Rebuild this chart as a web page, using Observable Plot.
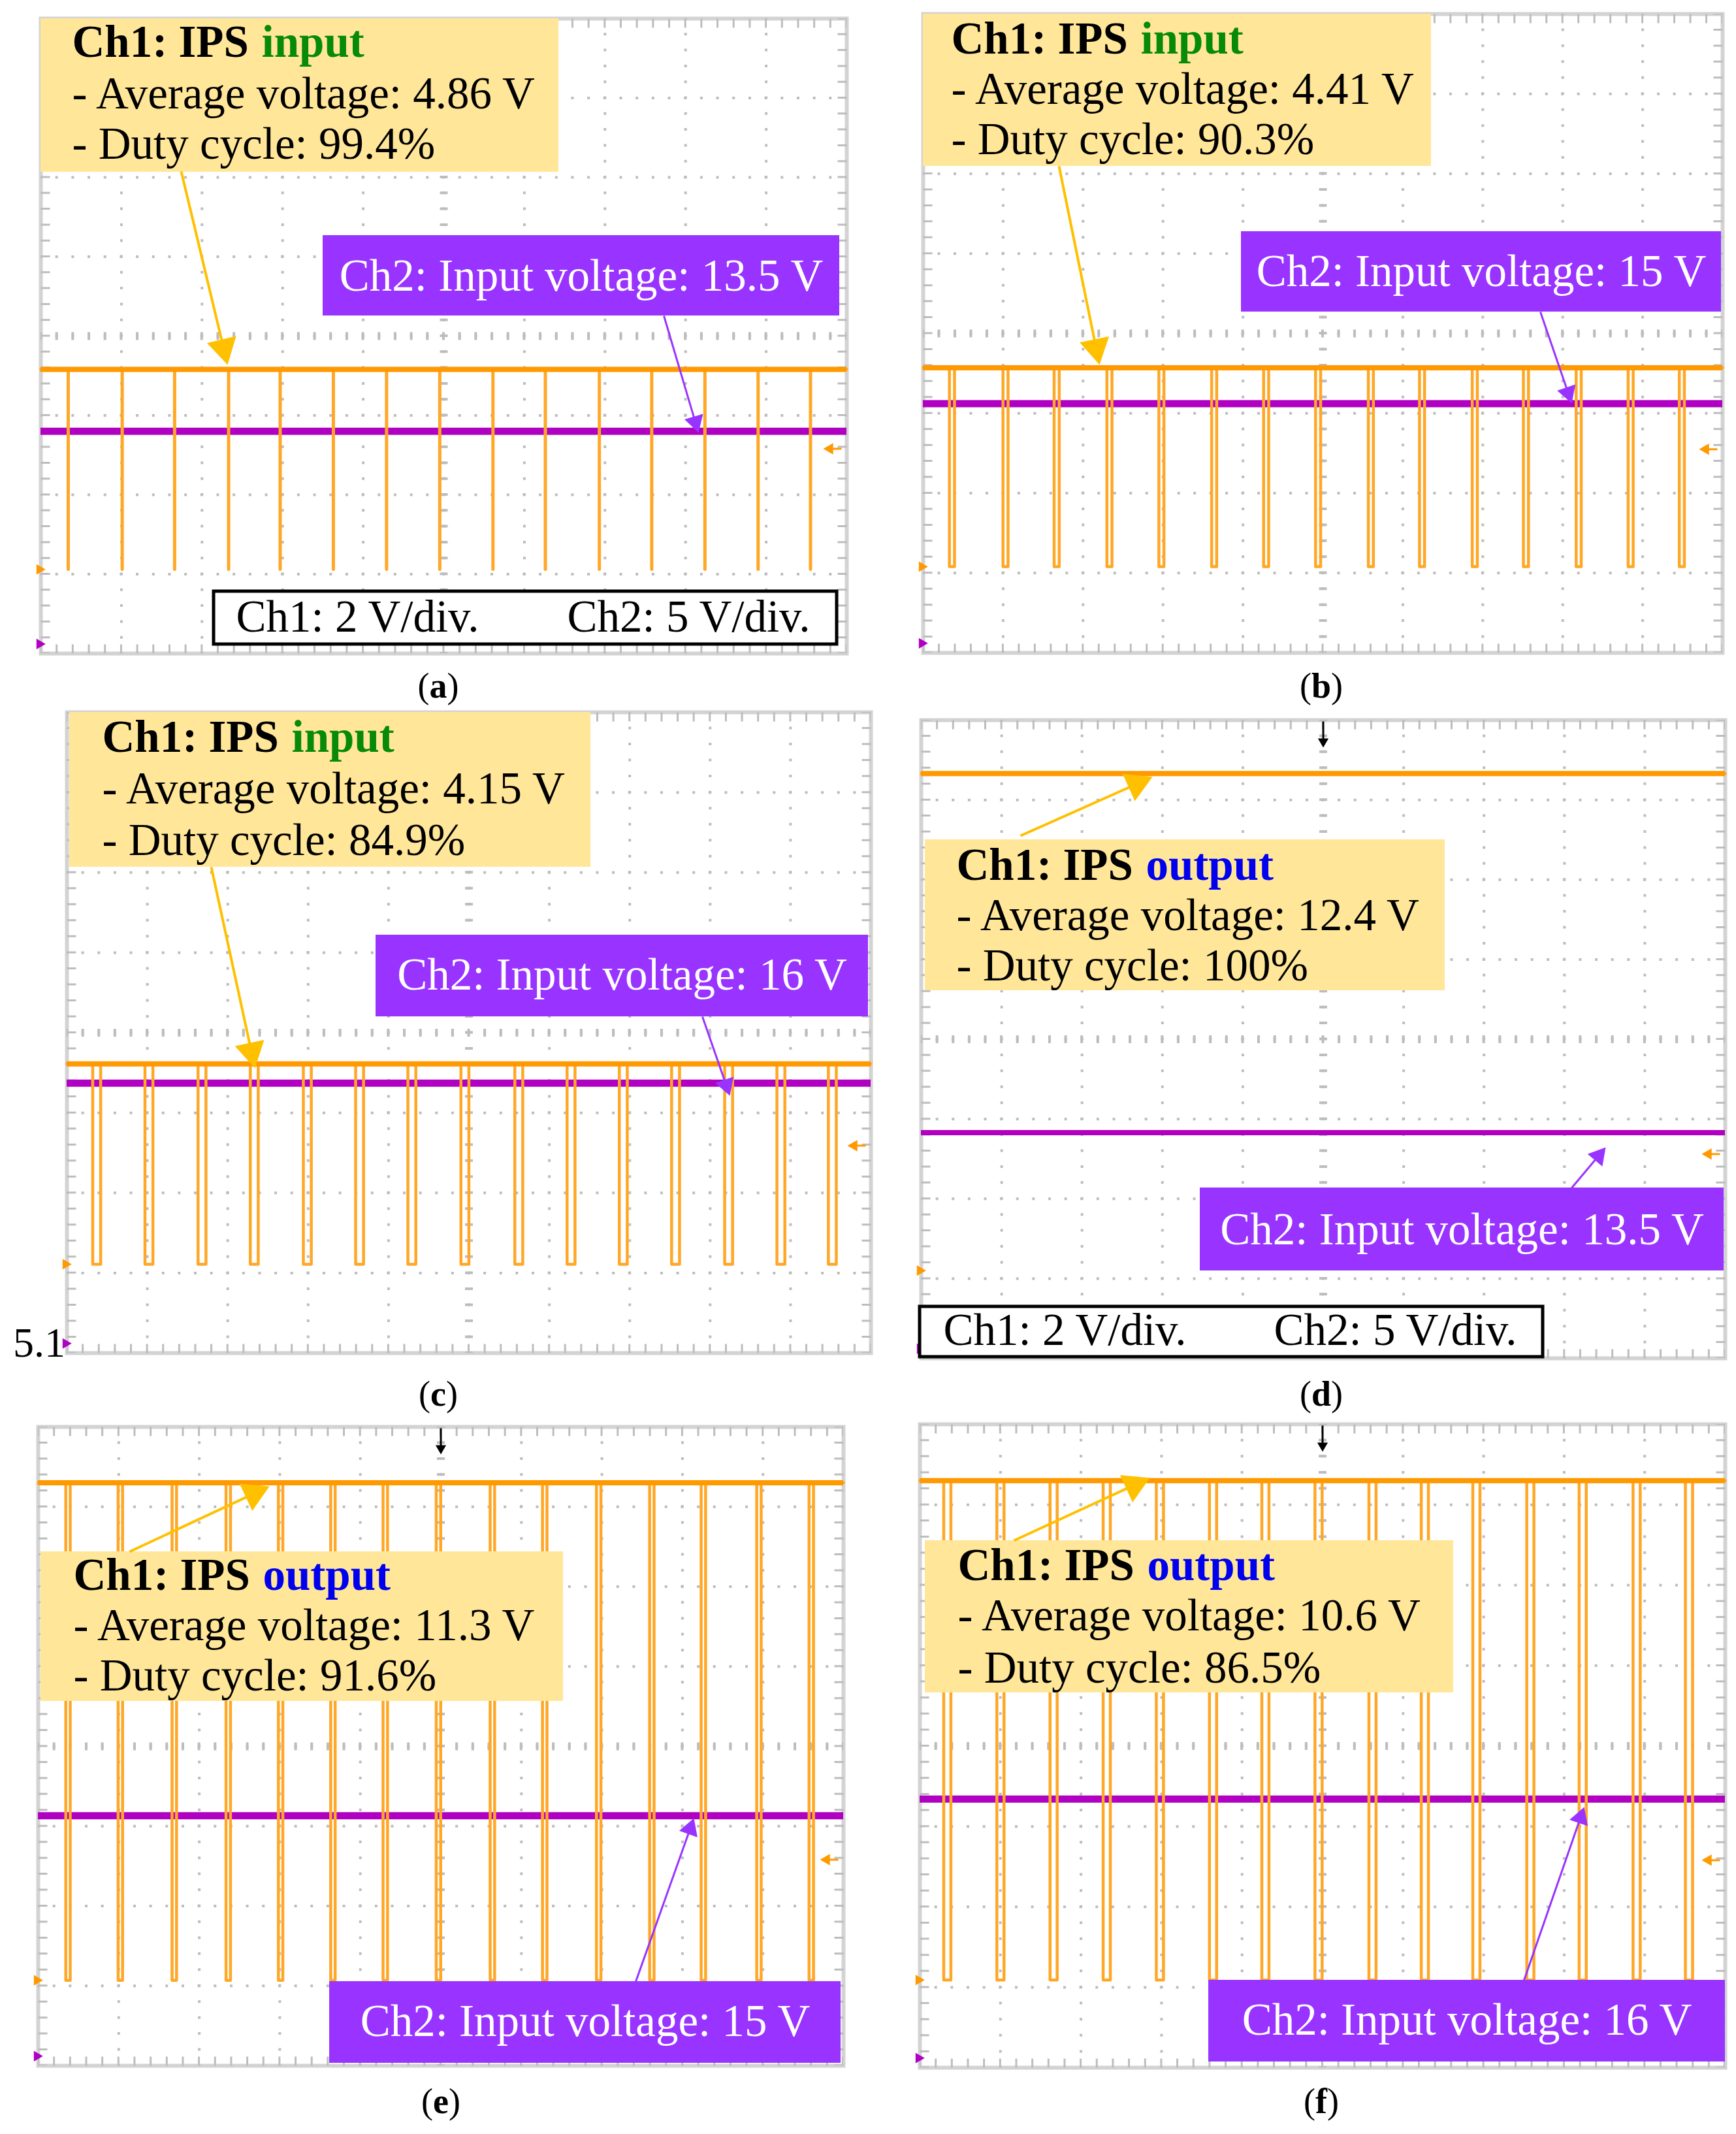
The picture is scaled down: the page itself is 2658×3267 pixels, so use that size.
<!DOCTYPE html>
<html>
<head>
<meta charset="utf-8">
<script src="https://cdn.jsdelivr.net/npm/d3@7"></script>
<script src="https://cdn.jsdelivr.net/npm/@observablehq/plot@0.6"></script>
<style>
html,body{margin:0;padding:0;background:#fff;}
#page{position:relative;width:2658px;height:3267px;overflow:hidden;font-family:"Liberation Serif","Times New Roman",serif;color:#000;}
.panel{position:absolute;}
.panel svg{overflow:visible;display:block;}
.cap{position:absolute;font-size:54px;line-height:54px;white-space:nowrap;transform:translateX(-50%);}
.sec{position:absolute;font-size:64px;line-height:64px;white-space:nowrap;}
</style>
</head>
<body>
<div id="page"></div>
<script>
// ---------------- data ----------------
const panelLabels = ["a", "b", "c", "d", "e", "f"];
const ch1Point = ["input", "input", "input", "output", "output", "output"];
const averageVoltage = ["4.86", "4.41", "4.15", "12.4", "11.3", "10.6"];
const dutyCycle = [99.4, 90.3, 84.9, 100, 91.6, 86.5];
const inputVoltage = ["13.5", "15", "16", "13.5", "15", "16"];
const scaleTexts = ["Ch1: 2 V/div.", "Ch2: 5 V/div."];
const sectionLabel = "5.1";

// trace levels, in screen divisions from the centre line (8 div tall, 10 div wide)
const ch1HighDiv = [-0.42, -0.43, -0.39, 3.33, 3.30, 3.30];
const ch1LowDiv = [-2.94, -2.92, -2.89, -2.90, -2.93, -2.91];
const ch2LevelDiv = [-1.20, -0.88, -0.63, -1.17, -0.87, -0.66];
const triggerLevelDiv = [-1.42, -1.45, -1.41, -1.44, -1.42, -1.42];
const ch2GroundDiv = [-3.88, -3.88, -3.88, -3.88, -3.88, -3.88];
// centres of the low (off) pulses of Ch1, in divisions from the left edge
const pulseCentersDiv = [
  [0.34, 1.01, 1.66, 2.33, 2.97, 3.63, 4.29, 4.95, 5.61, 6.26, 6.93, 7.58, 8.24, 8.90, 9.55],
  [0.36, 1.03, 1.67, 2.33, 2.98, 3.64, 4.29, 4.94, 5.60, 6.24, 6.90, 7.54, 8.20, 8.85, 9.49],
  [0.37, 1.02, 1.68, 2.33, 2.99, 3.64, 4.29, 4.95, 5.62, 6.27, 6.92, 7.57, 8.23, 8.88, 9.52],
  [],
  [0.37, 1.02, 1.69, 2.36, 3.01, 3.66, 4.31, 4.97, 5.64, 6.29, 6.96, 7.62, 8.26, 8.95, 9.60],
  [0.34, 1.00, 1.66, 2.32, 2.98, 3.64, 4.29, 4.95, 5.62, 6.27, 6.91, 7.58, 8.23, 8.90, 9.55]
];

// ---------------- layout (page px / panel-local px) ----------------
const frameLeft = [62, 1413, 102, 1410, 58, 1408];
const frameTop = [28, 21, 1090, 1102, 2184, 2180];
const frameWidth = [1234, 1224, 1231, 1231, 1233, 1233];
const frameHeight = [972, 978, 981, 977, 978, 985];
const captionX = [671, 2023, 671, 2023, 675, 2023];
const captionBaseline = [1068, 1068, 2152, 2152, 3235, 3235];
const noteBox = [[0, 793, 0, 235], [0, 778, 0, 233], [4, 802, 0, 237], [6, 802, 183, 414], [4, 804, 191, 420], [8, 817, 178, 411]];
const noteTextX = [48, 43, 54, 54, 54, 58];
const noteBaselines = [[58, 137, 214], [60, 137, 214], [60, 139, 218], [244, 321, 398], [249, 326, 403], [238, 315, 395]];
const ch2Box = [[432, 1223, 332, 455], [487, 1222, 333, 456], [473, 1227, 341, 466], [427, 1229, 716, 843], [446, 1229, 849, 974], [442, 1233, 851, 976]];
const ch2Baseline = [416, 416, 424, 802, 932, 934];
const scaleBox = [[265, 1219, 877, 958], null, null, [-2, 952, 898, 975], null, null];
const scaleTextX = [[299, 806], null, null, [34, 540], null, null];
const scaleBaseline = [938, null, null, 956, null, null];
const ch1Arrow = [[215, 234, 286, 530], [208, 233, 270, 537], [221, 237, 288, 545], [152, 177, 354, 87], [140, 191, 354, 91], [144, 178, 352, 82]];
const ch2Arrow = [[954, 455, 1007, 634], [945, 456, 993, 596], [973, 466, 1015, 587], [996, 716, 1048, 654], [915, 849, 1004, 599], [925, 851, 1017, 586]];

const FONT = "Liberation Serif";
const FS = 69;
const ORANGE = "#FF9900", ORANGE_EDGE = "#FFA726", PURPLE_TRACE = "#B000C2";
const YELLOW_BOX = "#FFE699", PURPLE_BOX = "#9933FF", ARROW_Y = "#FFC000";
const GRID = "#bdbdbd";
const pointColor = {input: "#078A07", output: "#0000EE"};

function arrowParts(p, r, X, Y) {
  const [x1, y1, x2, y2] = p;
  const dx = x2 - x1, dy = y2 - y1, len = Math.hypot(dx, dy), ux = dx / len, uy = dy / len;
  const a = Math.sqrt(Math.PI * r * r / (3 * Math.sqrt(3)));
  const cx = x2 - ux * 2 * a, cy = y2 - uy * 2 * a;
  return {
    shaft: {x1: X(x1), y1: Y(y1), x2: X(cx), y2: Y(cy)},
    head: {x: X(cx), y: Y(cy), rotate: Math.atan2(ux, -uy) * 180 / Math.PI}
  };
}

function build(i) {
  const W = frameWidth[i], H = frameHeight[i];
  const sx = W / 10, sy = H / 8;
  const X = (px) => px / sx;
  const Y = (py) => 4 - py / sy;

  // Ch1 waveform from pulse centres and duty cycle
  const hi = ch1HighDiv[i], lo = ch1LowDiv[i];
  const centers = pulseCentersDiv[i];
  const wave = [{x: 0, y: hi}];
  if (centers.length > 1) {
    const period = (centers[centers.length - 1] - centers[0]) / (centers.length - 1);
    const w = period * (1 - dutyCycle[i] / 100);
    for (const c of centers) {
      wave.push({x: c - w / 2, y: hi}, {x: c - w / 2, y: lo}, {x: c + w / 2, y: lo}, {x: c + w / 2, y: hi});
    }
  }
  wave.push({x: 10, y: hi});

  const dashV = `4 ${sy / 5 - 4}`, dashH = `4 ${sx / 5 - 4}`;
  const marks = [
    Plot.frame({stroke: "#d3d3d3", strokeWidth: 6}),
    Plot.ruleX(d3.range(1, 10), {stroke: GRID, strokeWidth: 4, strokeDasharray: dashV, strokeDashoffset: 2}),
    Plot.ruleY(d3.range(-3, 4), {stroke: GRID, strokeWidth: 4, strokeDasharray: dashH, strokeDashoffset: 2}),
    Plot.ruleX([5], {stroke: GRID, strokeWidth: 12, strokeDasharray: dashV, strokeDashoffset: 2}),
    Plot.ruleY([0], {stroke: GRID, strokeWidth: 12, strokeDasharray: dashH, strokeDashoffset: 2}),
    Plot.ruleY([4], {stroke: GRID, strokeWidth: 14, dy: 7, strokeDasharray: `3 ${sx / 5 - 3}`, strokeDashoffset: 1.5}),
    Plot.ruleY([-4], {stroke: GRID, strokeWidth: 14, dy: -7, strokeDasharray: `3 ${sx / 5 - 3}`, strokeDashoffset: 1.5}),
    Plot.ruleX([0], {stroke: GRID, strokeWidth: 14, dx: 7, strokeDasharray: `3 ${sy / 5 - 3}`, strokeDashoffset: 1.5}),
    Plot.ruleX([10], {stroke: GRID, strokeWidth: 14, dx: -7, strokeDasharray: `3 ${sy / 5 - 3}`, strokeDashoffset: 1.5}),
    // traces
    Plot.ruleY([ch2LevelDiv[i]], {stroke: PURPLE_TRACE, strokeWidth: i === 3 ? 8 : 11}),
    Plot.line(wave, {x: "x", y: "y", stroke: ORANGE_EDGE, strokeWidth: 4.5}),
    Plot.ruleY([hi], {stroke: ORANGE, strokeWidth: 8}),
    // screen markers
    Plot.dot([{x: 0, y: lo}], {x: "x", y: "y", symbol: "triangle", rotate: 90, r: 6, fill: ORANGE, dx: -2}),
    Plot.dot([{x: 0, y: ch2GroundDiv[i]}], {x: "x", y: "y", symbol: "triangle", rotate: 90, r: 6, fill: PURPLE_TRACE, dx: -2})
  ];
  // trigger level marker (right edge) and trigger position marker (top centre)
  const trig = arrowParts([W - 8, (4 - triggerLevelDiv[i]) * sy, W - 36, (4 - triggerLevelDiv[i]) * sy], 6.5, X, Y);
  marks.push(
    Plot.link([trig.shaft], {x1: "x1", y1: "y1", x2: "x2", y2: "y2", stroke: ORANGE, strokeWidth: 3}),
    Plot.dot([trig.head], {x: "x", y: "y", rotate: "rotate", symbol: "triangle", r: 6.5, fill: ORANGE})
  );
  const tpos = arrowParts([5 * sx, 2, 5 * sx, 42], 6, X, Y);
  marks.push(
    Plot.link([tpos.shaft], {x1: "x1", y1: "y1", x2: "x2", y2: "y2", stroke: "#000", strokeWidth: 3}),
    Plot.dot([tpos.head], {x: "x", y: "y", rotate: "rotate", symbol: "triangle", r: 6, fill: "#000"})
  );

  // Ch1 note (yellow)
  const nb = noteBox[i], tx = noteTextX[i], bl = noteBaselines[i];
  marks.push(
    Plot.rect([{x1: X(nb[0]), x2: X(nb[1]), y1: Y(nb[2]), y2: Y(nb[3])}], {x1: "x1", x2: "x2", y1: "y1", y2: "y2", fill: YELLOW_BOX}),
    Plot.text([{x: X(tx), y: Y(bl[0]), t: "Ch1: IPS"}], {x: "x", y: "y", text: "t", textAnchor: "start", lineAnchor: "bottom", fontFamily: FONT, fontSize: FS, fontWeight: "bold", fill: "#000"}),
    Plot.text([{x: X(tx), y: Y(bl[0]), t: ch1Point[i]}], {x: "x", y: "y", text: "t", textAnchor: "start", lineAnchor: "bottom", dx: 290, fontFamily: FONT, fontSize: FS, fontWeight: "bold", fill: pointColor[ch1Point[i]]}),
    Plot.text([
      {x: X(tx), y: Y(bl[1]), t: `- Average voltage: ${averageVoltage[i]} V`},
      {x: X(tx), y: Y(bl[2]), t: `- Duty cycle: ${dutyCycle[i]}%`}
    ], {x: "x", y: "y", text: "t", textAnchor: "start", lineAnchor: "bottom", fontFamily: FONT, fontSize: FS, fill: "#000"})
  );
  // Ch2 note (purple)
  const pb = ch2Box[i];
  marks.push(
    Plot.rect([{x1: X(pb[0]), x2: X(pb[1]), y1: Y(pb[2]), y2: Y(pb[3])}], {x1: "x1", x2: "x2", y1: "y1", y2: "y2", fill: PURPLE_BOX}),
    Plot.text([{x: X((pb[0] + pb[1]) / 2), y: Y(ch2Baseline[i]), t: `Ch2: Input voltage: ${inputVoltage[i]} V`}],
      {x: "x", y: "y", text: "t", textAnchor: "middle", lineAnchor: "bottom", fontFamily: FONT, fontSize: FS, fill: "#fff"})
  );
  // scale box
  if (scaleBox[i]) {
    const sb = scaleBox[i], st = scaleTextX[i];
    marks.push(
      Plot.rect([{x1: X(sb[0]), x2: X(sb[1]), y1: Y(sb[2]), y2: Y(sb[3])}], {x1: "x1", x2: "x2", y1: "y1", y2: "y2", fill: "#fff", stroke: "#000", strokeWidth: 5}),
      Plot.text([
        {x: X(st[0]), y: Y(scaleBaseline[i]), t: scaleTexts[0]},
        {x: X(st[1]), y: Y(scaleBaseline[i]), t: scaleTexts[1]}
      ], {x: "x", y: "y", text: "t", textAnchor: "start", lineAnchor: "bottom", fontFamily: FONT, fontSize: FS, fill: "#000"})
    );
  }
  // arrows
  const a1 = arrowParts(ch1Arrow[i], 17, X, Y);
  const a2 = arrowParts(ch2Arrow[i], 11, X, Y);
  marks.push(
    Plot.link([a1.shaft], {x1: "x1", y1: "y1", x2: "x2", y2: "y2", stroke: ARROW_Y, strokeWidth: 4}),
    Plot.dot([a1.head], {x: "x", y: "y", rotate: "rotate", symbol: "triangle", r: 17, fill: ARROW_Y}),
    Plot.link([a2.shaft], {x1: "x1", y1: "y1", x2: "x2", y2: "y2", stroke: PURPLE_BOX, strokeWidth: 3}),
    Plot.dot([a2.head], {x: "x", y: "y", rotate: "rotate", symbol: "triangle", r: 11, fill: PURPLE_BOX})
  );

  return Plot.plot({
    width: W,
    height: H,
    margin: 0,
    x: {domain: [0, 10], axis: null},
    y: {domain: [-4, 4], axis: null},
    style: {background: "transparent", overflow: "visible"},
    marks
  });
}

const page = document.getElementById("page");
panelLabels.forEach((lab, i) => {
  const div = document.createElement("div");
  div.className = "panel";
  div.style.left = frameLeft[i] + "px";
  div.style.top = frameTop[i] + "px";
  div.appendChild(build(i));
  page.appendChild(div);
  const cap = document.createElement("div");
  cap.className = "cap";
  cap.style.left = captionX[i] + "px";
  cap.style.top = (captionBaseline[i] - 45) + "px";
  cap.innerHTML = `(<b>${lab}</b>)`;
  page.appendChild(cap);
});
const sec = document.createElement("div");
sec.className = "sec";
sec.style.left = "20px";
sec.style.top = (2078 - 54) + "px";
sec.textContent = sectionLabel;
page.appendChild(sec);
</script>
</body>
</html>
